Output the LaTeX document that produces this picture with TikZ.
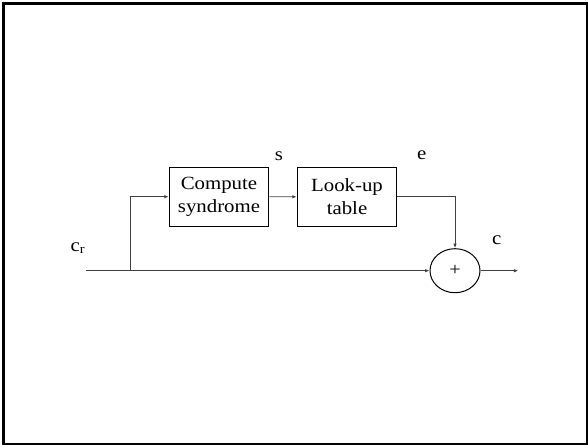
\documentclass[tikz,border=0pt]{standalone}
\usepackage{fontspec}
\setmainfont{Liberation Serif}[FakeStretch=1.12]
\usetikzlibrary{arrows.meta,shapes.geometric}
\begin{document}
\begin{tikzpicture}[x=1pt,y=-1pt,
  blk/.style={draw,line width=1.1pt,rectangle,minimum width=99.4pt,minimum height=58.7pt,inner sep=0pt,align=center,font=\fontsize{18.6}{22.7}\selectfont},
  sumnode/.style={draw,line width=1pt,ellipse,minimum width=50pt,minimum height=44pt,inner sep=0pt,font=\fontsize{18}{20}\selectfont},
  lbl/.style={inner sep=0pt,font=\fontsize{18.6}{20}\selectfont},
  conn/.style={line width=0.9pt,draw=black!75,-{Latex[length=4.5pt,width=3.5pt]}},
  plain/.style={line width=0.9pt,draw=black!75}]
\useasboundingbox (0,0) rectangle (588,444);
\draw[line width=2.6pt] (3.3,3.3) rectangle (587.5,443.8);
\node[blk] (cs) at (219,196.7) {Compute\\syndrome};
\node[blk] (lt) at (347,196.8) {Look-up\\table};
\node[sumnode] (sum) at (455,270.7) {+};
\coordinate (in) at (85.7,270.7);
\coordinate (branch) at (130.3,270.7);
\coordinate (out) at (518.3,270.7);
\draw[conn] (in) -- (sum.west);
\draw[conn] (branch) |- (cs.west);
\draw[conn] (cs.east) -- (lt.west);
\draw[conn] (lt.east) -| (sum.north);
\draw[conn] (sum.east) -- (out);
\node[lbl] (ls) at (279,156) {s};
\node[lbl] (le) at (421.7,155) {e};
\node[lbl] (lc) at (496.7,240) {c};
\node[lbl] (lcr) at (78,248) {c\textsubscript{r}};
\end{tikzpicture}
\end{document}
